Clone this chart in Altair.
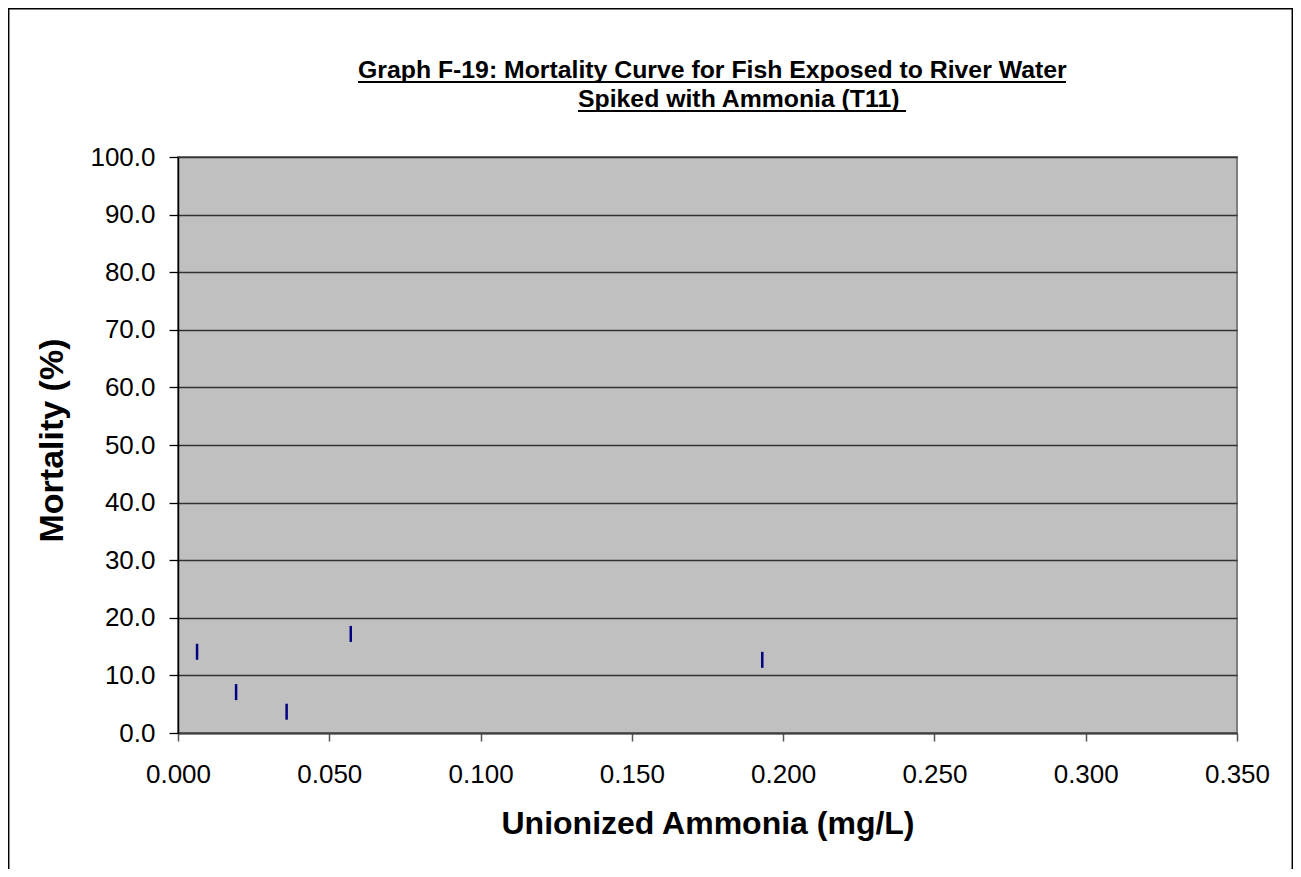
import altair as alt
import pandas as pd

# Data
ammonia = [0.0063, 0.0192, 0.0359, 0.0571, 0.1931]
mortality = [14.1, 7.1, 3.7, 17.2, 12.7]

title_lines = ["Graph F-19: Mortality Curve for Fish Exposed to River Water",
               " Spiked with Ammonia (T11)"]

FONT = "Liberation Sans"
W, H = 1059, 576

df = pd.DataFrame({"ammonia": ammonia, "mortality": mortality})
one = pd.DataFrame({"k": [0]})

points = alt.Chart(df).mark_tick(
    orient="vertical", size=16, thickness=2.5, color="#000080", opacity=1
).encode(
    x=alt.X("ammonia:Q",
            scale=alt.Scale(domain=[0, 0.35], nice=False, zero=False),
            axis=alt.Axis(values=[0, 0.05, 0.1, 0.15, 0.2, 0.25, 0.3, 0.35],
                          format=".3f", grid=False, tickSize=8, tickColor="#555555",
                          tickWidth=1.5, domainColor="#404040", domainWidth=2,
                          labelFontSize=26, labelFont=FONT, labelColor="black",
                          labelPadding=20, labelFlush=False,
                          title="Unionized Ammonia (mg/L)", titleFont=FONT,
                          titleFontSize=32, titleFontWeight="bold", titleColor="black",
                          titleY=100, titleBaseline="alphabetic")),
    y=alt.Y("mortality:Q",
            scale=alt.Scale(domain=[0, 100], nice=False),
            axis=alt.Axis(values=list(range(0, 101, 10)), format=".1f",
                          grid=True, gridColor="#333333", gridWidth=1.3,
                          tickSize=9, tickColor="#000000", tickWidth=1.3,
                          domainColor="#000000", domainWidth=1.5,
                          labelFontSize=26, labelFont=FONT, labelColor="black",
                          labelPadding=14, labelFlush=False,
                          title="Mortality (%)", titleFont=FONT, titleFontSize=34,
                          titleFontWeight="bold", titleColor="black",
                          titleAngle=270, titleX=-116, titleY=283,
                          titleAlign="center", titleBaseline="alphabetic")),
)

t1 = alt.Chart(one).mark_text(
    text=title_lines[0], font=FONT, fontSize=24.8, fontWeight="bold",
    align="left", baseline="alphabetic", color="black"
).encode(x=alt.value(180), y=alt.value(-79))
t2 = alt.Chart(one).mark_text(
    text=title_lines[1], font=FONT, fontSize=24.8, fontWeight="bold",
    align="left", baseline="alphabetic", color="black"
).encode(x=alt.value(400), y=alt.value(-50))
u1 = alt.Chart(one).mark_rule(color="black", strokeWidth=2).encode(
    x=alt.value(180), x2=alt.value(888), y=alt.value(-75))
u2 = alt.Chart(one).mark_rule(color="black", strokeWidth=2).encode(
    x=alt.value(400), x2=alt.value(728), y=alt.value(-46))

border = alt.Chart(one).mark_rect(
    fill=None, stroke="black", strokeWidth=1.5, clip=False
).encode(x=alt.value(-169.3), x2=alt.value(1114.3),
         y=alt.value(-148.3), y2=alt.value(760))

chart = alt.layer(points, t1, t2, u1, u2, border).properties(
    width=W, height=H,
    autosize=alt.AutoSizeParams(type="none"),
    padding={"left": 170, "top": 149, "right": 56, "bottom": 136},
    background="white",
).configure_view(
    fill="#C0C0C0", stroke="#808080", strokeWidth=2
)

chart.save("out.html", embed_options={"renderer": "svg", "actions": False})
